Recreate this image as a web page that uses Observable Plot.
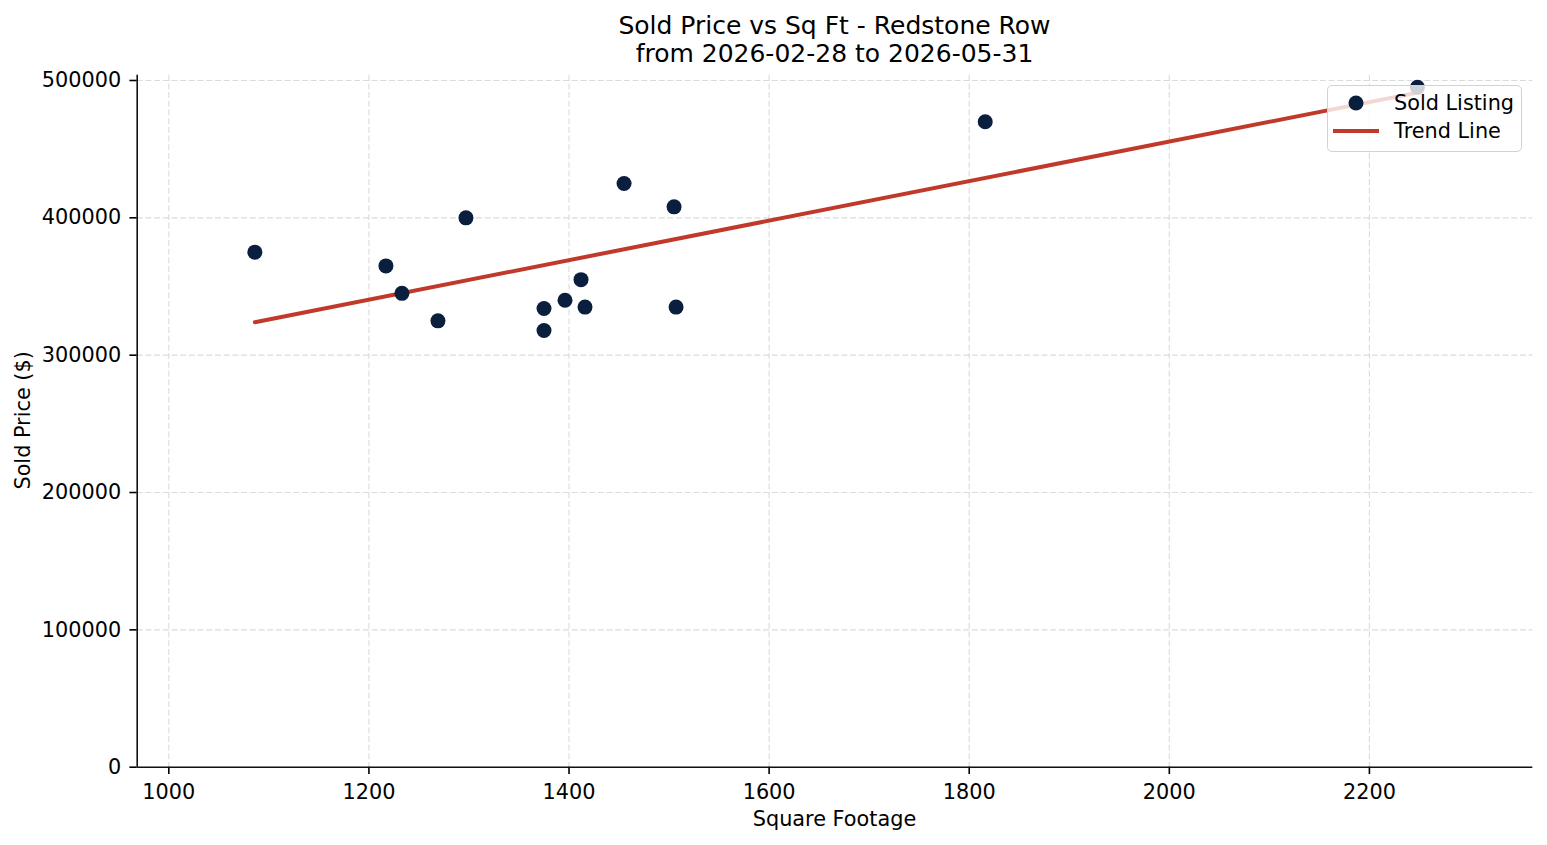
<!DOCTYPE html>
<html>
<head>
<meta charset="utf-8">
<script src="https://cdn.jsdelivr.net/npm/d3@7"></script>
<script src="https://cdn.jsdelivr.net/npm/@observablehq/plot@0.6"></script>
<style>
  html, body { margin: 0; padding: 0; background: #fff; }
  #page { position: relative; width: 1547px; height: 845px; overflow: hidden;
          font-family: "DejaVu Sans", sans-serif; color: #000; }
  #title { position: absolute; left: 136.7px; width: 1395.6px; top: 12.3px;
           text-align: center; font-size: 25px; line-height: 28px; white-space: nowrap; }
  #chart { position: absolute; left: 0; top: 67px; }
  .axis-title { position: absolute; font-size: 20.8px; line-height: 20.8px;
                text-align: center; white-space: nowrap; }
  #xlabel { left: 136.7px; width: 1395.6px; top: 809.4px; }
  #ylabel { left: -127.5px; top: 409.6px; width: 300px; height: 20.8px;
            transform: rotate(-90deg); transform-origin: 150px 10.4px; }
  #legend { position: absolute; left: 1327px; top: 85px; width: 195px; height: 67px; }
  #legend .box { position: absolute; inset: 0; box-sizing: border-box;
                 border: 1.5px solid #d2d2d2; border-radius: 5px;
                 background: rgba(255,255,255,0.8); }
  #legend svg { position: absolute; left: 0; top: 0; overflow: visible; }
</style>
</head>
<body>
<div id="page">
  <div id="title">Sold Price vs Sq Ft - Redstone Row<br>from 2026-02-28 to 2026-05-31</div>
  <div id="chart"></div>
  <div id="xlabel" class="axis-title">Square Footage</div>
  <div id="ylabel" class="axis-title">Sold Price ($)</div>
  <div id="legend">
    <div class="box"></div>
    <svg width="195" height="67" font-family="DejaVu Sans" font-size="20.8">
      <circle cx="29" cy="18" r="7.5" fill="#0a1e3d"></circle>
      <line x1="6" x2="52" y1="46" y2="46" stroke="#c0392b" stroke-width="4"></line>
      <text x="67" y="25">Sold Listing</text>
      <text x="67" y="53.3">Trend Line</text>
    </svg>
  </div>
</div>
<script>
// Sold listings: square footage and sold price
const sqft  = [1086, 1217, 1233, 1269, 1297, 1375, 1375, 1396, 1412, 1416, 1455, 1505, 1507, 1816, 2248];
const price = [375000, 365000, 345000, 325000, 400000, 334000, 318000, 340000, 355000, 335000, 425000, 408000, 335000, 470000, 495000];

// Axis ticks
const xTicks = [1000, 1200, 1400, 1600, 1800, 2000, 2200];
const yTicks = [0, 100000, 200000, 300000, 400000, 500000];

const listings = sqft.map((s, i) => ({sqft: s, price: price[i]}));

// Least-squares trend line across the observed square-footage range
const mx = d3.mean(sqft), my = d3.mean(price);
const slope = d3.sum(sqft, (s, i) => (s - mx) * (price[i] - my)) / d3.sum(sqft, s => (s - mx) ** 2);
const intercept = my - slope * mx;
const trend = d3.extent(sqft).map(s => ({sqft: s, price: intercept + slope * s}));

const navy = "#0a1e3d";
const red = "#c0392b";
const gridStyle = {stroke: "#b0b0b0", strokeOpacity: 0.45, strokeWidth: 1.1, strokeDasharray: "6,2.7"};

const chart = Plot.plot({
  width: 1547,
  height: 778,
  marginTop: 7.7,
  marginBottom: 78.3,
  marginLeft: 136.7,
  marginRight: 14.7,
  style: {fontFamily: "DejaVu Sans", fontSize: "20.8px", color: "#000", background: "#fff", overflow: "visible"},
  x: {domain: [968.4, 2363.3]},
  y: {domain: [0, 503850]},
  marks: [
    Plot.gridX(xTicks, gridStyle),
    Plot.gridY(yTicks, gridStyle),
    Plot.axisX(xTicks, {tickSize: 7.3, tickPadding: 9.5, tickFormat: d3.format("d"), label: null, strokeWidth: 1.6}),
    Plot.axisY(yTicks, {tickSize: 7.3, tickPadding: 8.7, tickFormat: d3.format("d"), label: null, strokeWidth: 1.6}),
    Plot.ruleX([968.4], {stroke: "#111", strokeWidth: 1.6}),
    Plot.ruleY([0], {stroke: "#111", strokeWidth: 1.6}),
    Plot.line(trend, {x: "sqft", y: "price", stroke: red, strokeWidth: 4}),
    Plot.dot(listings, {x: "sqft", y: "price", r: 7.5, fill: navy, stroke: "none"})
  ]
});
document.getElementById("chart").appendChild(chart);
</script>
</body>
</html>
